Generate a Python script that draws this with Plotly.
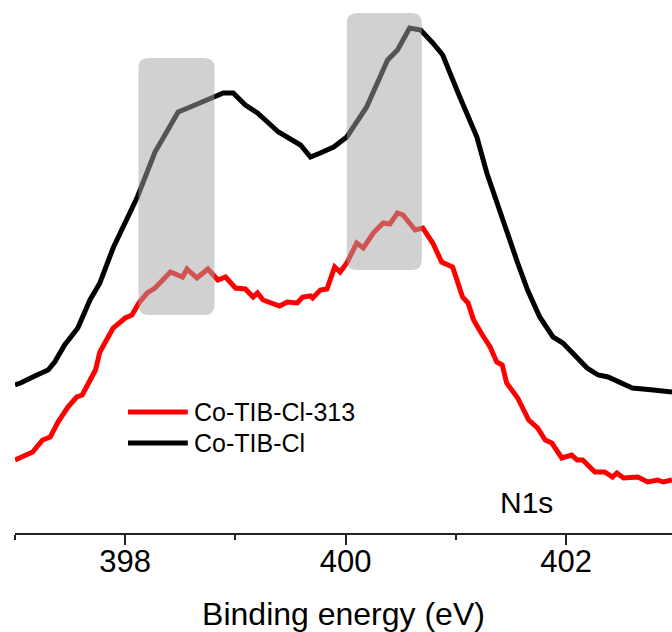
import plotly.graph_objects as go

# Binding energy (eV) and intensity (a.u.)
be_black = [397.00, 397.05, 397.18, 397.30, 397.36, 397.45, 397.57, 397.68, 397.77, 397.89,
            398.11, 398.27, 398.36, 398.48, 398.59, 398.79, 398.89, 398.98, 399.09, 399.20,
            399.39, 399.59, 399.68, 399.77, 399.89, 400.01, 400.19, 400.38, 400.47, 400.58,
            400.68, 400.79, 400.88, 401.02, 401.19, 401.28, 401.40, 401.56, 401.65, 401.76,
            401.88, 401.97, 402.19, 402.29, 402.38, 402.49, 402.60, 402.79, 402.96]
int_black = [148, 150, 157, 163, 171, 188, 205, 233, 250, 285,
             336, 381, 398, 421, 426, 436, 440, 440, 428, 420,
             401, 388, 376, 380, 386, 396, 426, 473, 483, 505,
             503, 490, 478, 440, 396, 360, 320, 270, 243, 216,
             196, 190, 165, 158, 156, 150, 145, 143, 141]

be_red = [397.00, 397.07, 397.16, 397.25, 397.32, 397.39, 397.48, 397.56, 397.61, 397.73,
          397.77, 397.89, 398.00, 398.06, 398.13, 398.20, 398.27, 398.41, 398.52, 398.56,
          398.65, 398.75, 398.84, 398.91, 399.00, 399.09, 399.16, 399.20, 399.25, 399.40,
          399.47, 399.56, 399.61, 399.68, 399.70, 399.77, 399.83, 399.90, 399.95, 400.01,
          400.10, 400.16, 400.25, 400.34, 400.40, 400.47, 400.52, 400.63, 400.70, 400.79,
          400.87, 400.97, 401.06, 401.11, 401.16, 401.24, 401.31, 401.37, 401.42, 401.46,
          401.56, 401.66, 401.74, 401.81, 401.87, 401.96, 402.05, 402.10, 402.15, 402.26,
          402.35, 402.42, 402.46, 402.52, 402.65, 402.74, 402.83, 402.88, 402.96]
int_red = [73, 76, 81, 93, 96, 111, 126, 136, 138, 163,
           181, 205, 215, 218, 231, 240, 245, 261, 256, 264,
           255, 264, 253, 256, 245, 244, 236, 240, 233, 227,
           231, 230, 236, 237, 235, 243, 244, 266, 261, 270,
           290, 285, 300, 310, 309, 320, 318, 303, 305, 290,
           271, 266, 236, 230, 213, 198, 186, 171, 168, 150,
           135, 113, 105, 93, 90, 75, 78, 73, 73, 61,
           61, 56, 60, 55, 56, 51, 53, 51, 53]

names = ["Co-TIB-Cl-313", "Co-TIB-Cl"]
colors = ["#ff0000", "#000000"]

# highlighted regions: (x0, x1, y0, y1)
regions_x0 = [398.12, 400.01]
regions_x1 = [398.81, 400.69]
regions_y0 = [218, 263]
regions_y1 = [475, 520]

x_range = [397.0, 402.96]
y_range = [0, 533]

fig = go.Figure()
fig.add_trace(go.Scatter(x=be_black, y=int_black, mode="lines", name=names[1],
                         line=dict(color=colors[1], width=5), showlegend=False))
fig.add_trace(go.Scatter(x=be_red, y=int_red, mode="lines", name=names[0],
                         line=dict(color=colors[0], width=5), showlegend=False))

rx, ry = 0.091, 10
for x0, x1, y0, y1 in zip(regions_x0, regions_x1, regions_y0, regions_y1):
    path = (f"M {x0+rx},{y0} L {x1-rx},{y0} Q {x1},{y0} {x1},{y0+ry} "
            f"L {x1},{y1-ry} Q {x1},{y1} {x1-rx},{y1} L {x0+rx},{y1} "
            f"Q {x0},{y1} {x0},{y1-ry} L {x0},{y0+ry} Q {x0},{y0} {x0+rx},{y0} Z")
    fig.add_shape(type="path", path=path, xref="x", yref="y",
                  fillcolor="rgba(165,165,165,0.51)", line=dict(width=0), layer="above")

# manual legend
leg_y = [0.227, 0.169]
for name, color, yy in zip(names, colors, leg_y):
    fig.add_shape(type="line", xref="paper", yref="paper", x0=0.172, x1=0.263,
                  y0=yy, y1=yy, line=dict(color=color, width=5))
    fig.add_annotation(x=0.27, y=yy, xref="paper", yref="paper", text=name,
                       showarrow=False, xanchor="left", yanchor="middle",
                       font=dict(size=25, color="black"))

fig.add_annotation(x=0.779, y=0.058, xref="paper", yref="paper", text="N1s",
                   showarrow=False, xanchor="center", yanchor="middle",
                   font=dict(size=30, color="black"))

fig.update_layout(
    width=672, height=632,
    margin=dict(l=15, r=0, t=0, b=99),
    paper_bgcolor="white", plot_bgcolor="white",
    font=dict(family="Arial, Liberation Sans, sans-serif", color="black"),
    xaxis=dict(range=x_range, showgrid=False, zeroline=False, showline=True,
               linecolor="#222", linewidth=2, ticks="outside", ticklen=10, tickwidth=2,
               tickcolor="#222", tick0=398, dtick=2, tickfont=dict(size=31),
               ticklabelstandoff=-10,
               minor=dict(dtick=1, tick0=397, ticks="outside", ticklen=5, tickwidth=2,
                          tickcolor="#222", showgrid=False),
               title=dict(text="Binding energy (eV)", font=dict(size=32), standoff=24)),
    yaxis=dict(range=y_range, visible=False),
)

fig.write_html("out.html")
